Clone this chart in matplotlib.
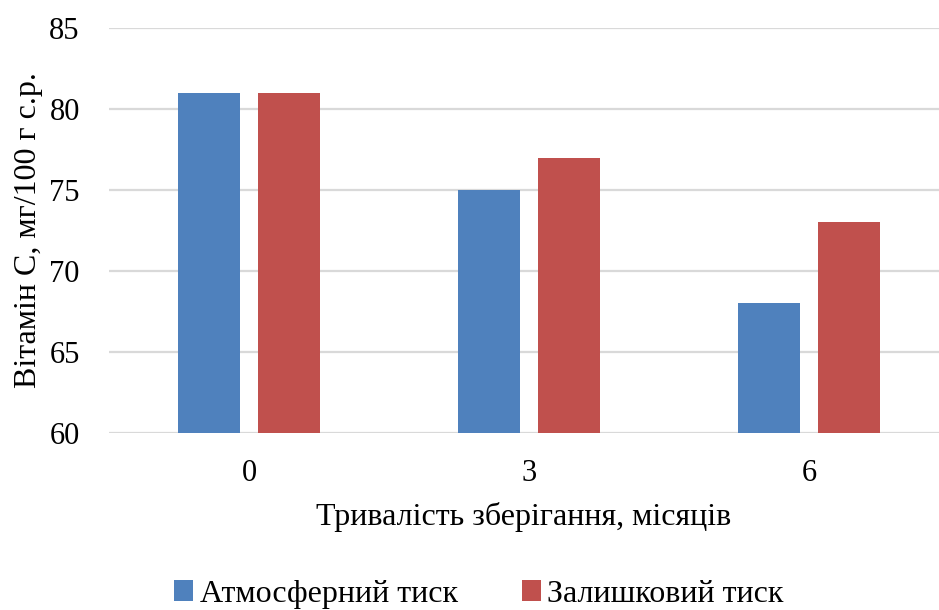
import matplotlib
matplotlib.use("Agg")
import matplotlib.pyplot as plt
import numpy as np

plt.rcParams['font.family'] = ['Liberation Serif', 'DejaVu Serif']

categories = ["0", "3", "6"]
atmospheric = [81, 75, 68]
residual = [81, 77, 73]
series_names = ["Атмосферний тиск", "Залишковий тиск"]
yticks = [60, 65, 70, 75, 80, 85]

fig = plt.figure(figsize=(9.39, 6.10), dpi=100)
ax = fig.add_axes([109 / 939, 1 - 433 / 610, 1 - 109 / 939, (433 - 28) / 610])

x = np.arange(len(categories))
w = 0.221
off = 0.143
ax.bar(x - off, atmospheric, w, color="#4f81bd", label=series_names[0], zorder=3)
ax.bar(x + off, residual, w, color="#c0504d", label=series_names[1], zorder=3)

ax.set_xlim(-0.5, -0.5 + 830 / 280)
ax.set_ylim(60, 85)
ax.set_yticks(yticks)
ax.set_xticks(x)
ax.set_xticklabels(categories)
ax.grid(axis="y", color="#d9d9d9", linewidth=1.6, zorder=0)
for s in ax.spines.values():
    s.set_visible(False)
ax.tick_params(axis="both", length=0, labelsize=22)
ax.tick_params(axis="x", pad=19)
ax.tick_params(axis="y", pad=21)

ax.set_ylabel("Вітамін С, мг/100 г с.р.", fontsize=23)
ax.yaxis.set_label_coords(-0.0795, 0.5)
ax.set_xlabel("Тривалість зберігання, місяців", fontsize=23, labelpad=10)

fig.legend(loc="lower center", bbox_to_anchor=(0.51, -0.045), ncol=2, frameon=False,
           fontsize=23, handlelength=0.6, handleheight=0.6, handletextpad=0.2,
           columnspacing=2.0)

fig.savefig("out.png", dpi=100)
